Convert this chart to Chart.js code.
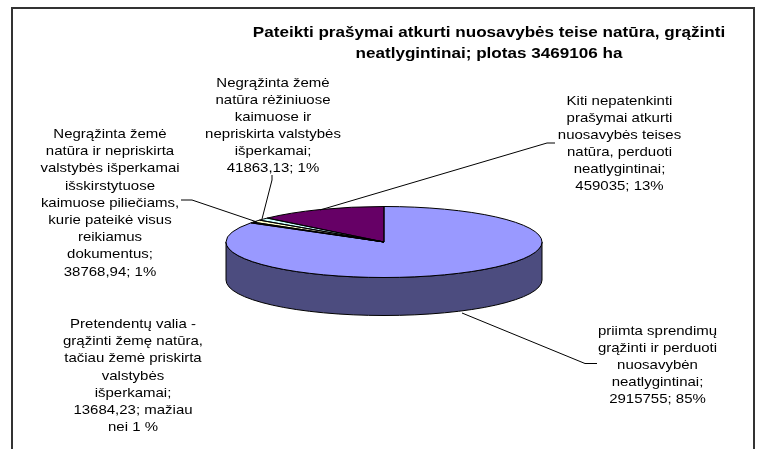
<!DOCTYPE html>
<html>
<head>
<meta charset="utf-8">
<style>
  html, body { margin: 0; padding: 0; background: #fff; }
  #wrap { width: 762px; height: 449px; }
</style>
<script src="https://cdn.jsdelivr.net/npm/chart.js@4"></script>
</head>
<body>
<div id="wrap"><canvas id="pieChart" width="762" height="449"></canvas></div>
<script>
const categories = [
  "priimta sprendimų grąžinti ir perduoti nuosavybėn neatlygintinai",
  "Pretendentų valia - grąžinti žemę natūra, tačiau žemė priskirta valstybės išperkamai",
  "Negrąžinta žemė natūra ir nepriskirta valstybės išperkamai išskirstytuose kaimuose piliečiams, kurie pateikė visus reikiamus dokumentus",
  "Negrąžinta žemė natūra rėžiniuose kaimuose ir nepriskirta valstybės išperkamai",
  "Kiti nepatenkinti prašymai atkurti nuosavybės teises natūra, perduoti neatlygintinai"
]
const areas = [2915755, 13684.23, 38768.94, 41863.13, 459035]
const topColors = ["#9999FF", "#993366", "#FFFFCC", "#CCFFFF", "#660066"]
const sideColors = ["#4C4C7F", "#4C1933", "#7F7F66", "#667F7F", "#330033"]
const titleLines = ["Pateikti prašymai atkurti nuosavybės teise natūra, grąžinti", "neatlygintinai; plotas 3469106 ha"]

// x, first baseline, line gap, lines
const labelBlocks = [
  { x: 657.5, y: 335, gap: 17, lines: ["priimta sprendimų", "grąžinti ir perduoti", "nuosavybėn", "neatlygintinai;", "2915755; 85%"] },
  { x: 133, y: 328, gap: 17.2, lines: ["Pretendentų valia -", "grąžinti žemę natūra,", "tačiau žemė priskirta", "valstybės", "išperkamai;", "13684,23; mažiau", "nei 1 %"] },
  { x: 110, y: 138, gap: 17.2, lines: ["Negrąžinta žemė", "natūra ir nepriskirta", "valstybės išperkamai", "išskirstytuose", "kaimuose piliečiams,", "kurie pateikė visus", "reikiamus", "dokumentus;", "38768,94; 1%"] },
  { x: 273, y: 87, gap: 17, lines: ["Negrąžinta žemė", "natūra rėžiniuose", "kaimuose ir", "nepriskirta valstybės", "išperkamai;", "41863,13; 1%"] },
  { x: 619.5, y: 105, gap: 17, lines: ["Kiti nepatenkinti", "prašymai atkurti", "nuosavybės teises", "natūra, perduoti", "neatlygintinai;", "459035; 13%"] }
]
const leaders = [
  [[462, 313], [585, 363.5], [597, 363.5]],
  [[257, 222], [192, 200], [181, 200]],
  [[262, 219], [272, 180], [272, 175]],
  [[320, 210], [547, 143], [555, 143]]
]

const centerX = 384
const centerY = 242
const radius = 158
const flatten = 35.5 / 158
const depth = 38

// the original text is a bit wider than the font
const drawText = (ctx, text, x, y, stretch) => {
  ctx.save()
  ctx.translate(x, y)
  ctx.scale(stretch, 1)
  ctx.fillText(text, 0, 0)
  ctx.restore()
}

// draws the pie squashed and adds the rim, outlines, text
const fakePie3d = {
  id: "fakePie3d",
  beforeDraw(chart) {
    const ctx = chart.ctx
    ctx.save()
    ctx.strokeStyle = "#333"
    ctx.lineWidth = 2
    ctx.beginPath()
    ctx.moveTo(12, 449)
    ctx.lineTo(12, 8)
    ctx.lineTo(754, 8)
    ctx.lineTo(754, 449)
    ctx.stroke()
    ctx.restore()
  },
  beforeDatasetsDraw(chart) {
    const ctx = chart.ctx
    const arcs = chart.getDatasetMeta(0).data
    const ry = radius * flatten
    ctx.save()
    ctx.lineWidth = 1
    ctx.strokeStyle = "#000"
    arcs.forEach((arc, i) => {
      const start = Math.max(arc.startAngle, 0)
      const end = Math.min(arc.endAngle, Math.PI)
      if (end <= start) return
      ctx.beginPath()
      ctx.ellipse(arc.x, centerY, radius, ry, 0, start, end)
      ctx.ellipse(arc.x, centerY + depth, radius, ry, 0, end, start, true)
      ctx.closePath()
      ctx.fillStyle = sideColors[i]
      ctx.fill()
      ctx.stroke()
    })
    ctx.restore()
    ctx.save()
    ctx.translate(0, centerY)
    ctx.scale(1, flatten)
    ctx.translate(0, -centerY)
  },
  afterDatasetsDraw(chart) {
    const ctx = chart.ctx
    ctx.restore()
    const arcs = chart.getDatasetMeta(0).data
    const ry = radius * flatten
    ctx.save()
    ctx.lineWidth = 1
    ctx.strokeStyle = "#000"
    arcs.forEach(arc => {
      ctx.beginPath()
      ctx.moveTo(arc.x, centerY)
      ctx.ellipse(arc.x, centerY, radius, ry, 0, arc.startAngle, arc.endAngle)
      ctx.closePath()
      ctx.stroke()
    })
    ctx.beginPath()
    leaders.forEach(pts => {
      pts.forEach((p, i) => i ? ctx.lineTo(p[0], p[1]) : ctx.moveTo(p[0], p[1]))
    })
    ctx.stroke()

    ctx.fillStyle = "#000"
    ctx.textAlign = "center"
    ctx.textBaseline = "alphabetic"
    ctx.font = "bold 15px 'Liberation Sans'"
    drawText(ctx, titleLines[0], 489, 37, 1.14)
    drawText(ctx, titleLines[1], 489, 58, 1.14)
    ctx.font = "13.5px 'Liberation Sans'"
    labelBlocks.forEach(b => {
      b.lines.forEach((line, i) => drawText(ctx, line, b.x, b.y + i * b.gap, 1.11))
    })
    ctx.restore()
  }
}

const pieChart = new Chart(document.querySelector("#pieChart"), {
  type: "pie",
  data: {
    labels: categories,
    datasets: [{
      data: areas,
      backgroundColor: topColors,
      borderWidth: 0
    }]
  },
  options: {
    responsive: false,
    animation: false,
    events: [],
    layout: { padding: { left: 226, right: 220, top: 84, bottom: 49 } },
    plugins: {
      legend: { display: false },
      tooltip: { enabled: false }
    }
  },
  plugins: [fakePie3d]
})
</script>
</body>
</html>
